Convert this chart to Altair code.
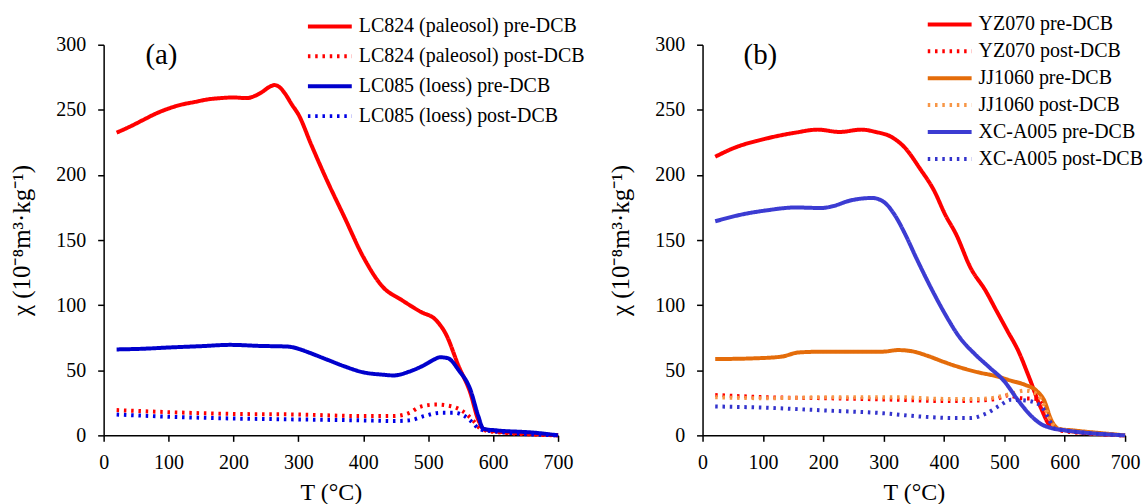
import altair as alt
import pandas as pd

FONT = "Liberation Serif"

# ---------------- panel (a): Luochuan paleosol / loess ----------------
a_names = [
    "LC824 (paleosol) pre-DCB",
    "LC824 (paleosol) post-DCB",
    "LC085 (loess) pre-DCB",
    "LC085 (loess) post-DCB",
]
a_colors = ["#ff0000", "#ff0000", "#0000cc", "#0000e6"]

lc824_pre_T = [20, 40, 60, 80, 100, 120, 140, 160, 180, 200, 220, 232, 245, 255, 263, 272, 280, 290, 300,
               320, 342, 371, 400, 430, 459, 488, 512, 527, 547, 565, 577, 585, 606, 650, 700]
lc824_pre_chi = [232.5, 237, 242, 247, 251, 254, 256, 258, 259, 259.5, 259, 260.5, 264, 267.5, 269, 267, 262,
                 254, 246.5, 223, 198, 167.5, 137, 114, 104, 95, 88.5, 78, 53, 32.5, 12, 5, 3, 1.5, 0]

lc824_post_T = [20, 101, 195, 300, 400, 447, 471, 488, 512, 535, 553, 570, 582, 606, 700]
lc824_post_chi = [19.4, 17.8, 16.5, 16, 14.8, 14.8, 17.3, 22, 23.7, 22.4, 18.6, 11, 4.6, 2.5, 0]

lc085_pre_T = [20, 60, 101, 150, 195, 240, 283, 300, 312, 342, 371, 400, 430, 447, 471, 494, 510, 518, 530,
               547, 565, 577, 585, 606, 665, 700]
lc085_pre_chi = [66, 66.5, 67.5, 68.5, 69.5, 68.7, 68.2, 66.5, 64.4, 58.6, 53, 48.4, 46.6, 46, 49, 54, 58.5,
                 60, 59.3, 50, 35, 15, 5, 3.8, 2, 0]

lc085_post_T = [20, 101, 195, 300, 400, 447, 471, 494, 518, 541, 556, 570, 579, 606, 700]
lc085_post_chi = [16, 14.3, 13, 12.2, 11.5, 11, 11.5, 14.8, 17.3, 17.3, 14.8, 9, 4.6, 2.8, 0]

# ---------------- panel (b) ----------------
b_names = [
    "YZ070 pre-DCB",
    "YZ070 post-DCB",
    "JJ1060 pre-DCB",
    "JJ1060 post-DCB",
    "XC-A005 pre-DCB",
    "XC-A005 post-DCB",
]
b_colors = ["#ff0000", "#ff0000", "#e46c0a", "#f79646", "#3c3cd2", "#3333cc"]

yz070_pre_T = [21, 51, 106, 154, 191, 227, 263, 287, 312, 336, 360, 384, 402, 420, 444, 469, 487, 505, 523,
               541, 560, 578, 602, 700]
yz070_pre_chi = [214, 220.5, 228, 232.5, 234.8, 233, 234.8, 233, 229.4, 220.5, 205, 187.6, 169.5, 154.5,
                 128.7, 111, 95.6, 80.3, 65, 44.6, 21.7, 6.4, 3.8, 0]

yz070_post_T = [21, 106, 203, 324, 402, 457, 487, 505, 529, 553, 566, 578, 590, 700]
yz070_post_chi = [31, 29.3, 28.5, 27.3, 26.3, 26.8, 28, 30.6, 28.5, 28, 21.7, 10, 3.8, 0]

jj1060_pre_T = [21, 82, 130, 160, 203, 263, 299, 324, 348, 372, 402, 426, 457, 487, 511, 535, 553, 566, 578,
                590, 614, 700]
jj1060_pre_chi = [58.6, 59.1, 60.4, 63.7, 64.3, 64.3, 64.3, 65.5, 64.5, 61.2, 56, 52.3, 48.4, 45.4, 42, 38.7,
                  34.4, 26.8, 11.5, 5, 3.8, 0]

jj1060_post_T = [21, 106, 203, 324, 402, 457, 487, 511, 535, 553, 566, 578, 590, 700]
jj1060_post_chi = [29.3, 28.5, 29.3, 29.3, 28, 28, 29.3, 31.9, 34.4, 31.9, 23, 10, 5, 0]

xca005_pre_T = [21, 64, 106, 154, 197, 215, 245, 281, 299, 318, 336, 354, 384, 402, 426, 451, 475, 499, 523,
                541, 560, 578, 602, 700]
xca005_pre_chi = [164.4, 169.5, 172.8, 175, 174.6, 175.9, 180.4, 182.3, 179.7, 169.5, 154.2, 136.3, 108.3, 93,
                  75.2, 62.5, 52.3, 42, 26.8, 16.6, 8.9, 5.6, 3.8, 0]

xca005_post_T = [21, 106, 203, 299, 360, 420, 444, 469, 493, 511, 535, 560, 572, 584, 700]
xca005_post_chi = [22.2, 21.2, 19.1, 17, 14.5, 13.3, 13.3, 16.6, 23, 27.3, 26.8, 23, 14, 5, 0]

x_ticks = [0, 100, 200, 300, 400, 500, 600, 700]
y_ticks = [0, 50, 100, 150, 200, 250, 300]

SOLID = [1, 0]
DOTTED = [2.5, 4.8]
LINE_W = 4


def long_table(names, series):
    rows = []
    for name, (ts, vs) in zip(names, series):
        for t, v in zip(ts, vs):
            rows.append({"series": name, "T": t, "chi": v})
    return pd.DataFrame(rows)


def panel(names, colors, series, tag, width, legend_x, legend_y, row_h):
    df = long_table(names, series)
    dashes = [SOLID if "pre" in n else DOTTED for n in names]
    leg = dict(
        title=None, orient="none", legendX=legend_x, legendY=legend_y,
        symbolType="stroke", symbolSize=1936, symbolStrokeWidth=LINE_W,
        labelFont=FONT, labelFontSize=20, labelColor="black", labelLimit=0,
        labelOffset=5, rowPadding=0, clipHeight=row_h, padding=0, symbolOpacity=1,
    )
    lines = alt.Chart(df).mark_line(strokeWidth=LINE_W, interpolate="monotone", strokeCap="butt").encode(
        x=alt.X("T:Q", scale=alt.Scale(domain=[0, 700], nice=False),
                axis=alt.Axis(values=x_ticks, title="T (°C)", labelFlush=False)),
        y=alt.Y("chi:Q", scale=alt.Scale(domain=[0, 300], nice=False),
                axis=alt.Axis(values=y_ticks, title="χ (10⁻⁸m³·kg⁻¹)")),
        color=alt.Color("series:N", sort=names, scale=alt.Scale(domain=names, range=colors),
                        legend=alt.Legend(**leg)),
        strokeDash=alt.StrokeDash("series:N", sort=names, scale=alt.Scale(domain=names, range=dashes),
                                  legend=alt.Legend(**leg)),
    )
    label = alt.Chart(pd.DataFrame({"tag": [tag]})).mark_text(
        font=FONT, fontSize=29, color="black", align="center", baseline="middle"
    ).encode(text="tag:N", x=alt.value(58), y=alt.value(10))
    return alt.layer(lines, label).properties(width=width, height=392)


left = panel(
    a_names, a_colors,
    [(lc824_pre_T, lc824_pre_chi), (lc824_post_T, lc824_post_chi),
     (lc085_pre_T, lc085_pre_chi), (lc085_post_T, lc085_post_chi)],
    "(a)", 456, 203, -33, 29.3,
)
right = panel(
    b_names, b_colors,
    [(yz070_pre_T, yz070_pre_chi), (yz070_post_T, yz070_post_chi),
     (jj1060_pre_T, jj1060_pre_chi), (jj1060_post_T, jj1060_post_chi),
     (xca005_pre_T, xca005_pre_chi), (xca005_post_T, xca005_post_chi)],
    "(b)", 424, 224, -33.6, 26.4,
)

chart = alt.hconcat(left, right, spacing=24).resolve_scale(
    color="independent", strokeDash="independent"
).resolve_legend(color="independent", strokeDash="independent").properties(
    padding={"left": 10, "top": 10, "right": 0, "bottom": 0},
    background="white",
).configure_view(stroke=None).configure_axis(
    grid=False,
    domainColor="black", domainWidth=1.5,
    tickColor="black", tickWidth=1.5, tickSize=6,
    labelFont=FONT, labelFontSize=20, labelColor="black",
    titleFont=FONT, titleFontWeight="normal", titleColor="black",
).configure_axisX(labelPadding=11, titlePadding=8, titleFontSize=24).configure_axisY(
    labelPadding=12, titlePadding=21, titleFontSize=25
)

chart.save("out.html", embed_options={"renderer": "svg", "actions": False})
